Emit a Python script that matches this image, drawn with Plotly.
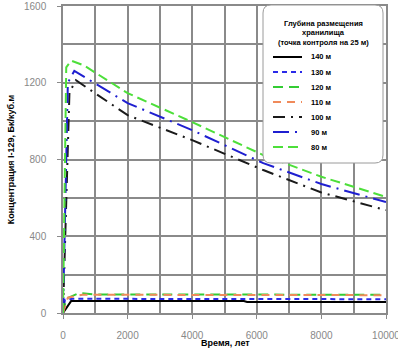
import plotly.graph_objects as go

# ---- data ----
t_140 = [0, 250, 5600, 5700, 10000]
c_140 = [0, 62, 62, 57, 57]

t_130 = [0, 60, 300, 10000]
c_130 = [0, 70, 74, 72]

t_120 = [0, 100, 500, 1000, 10000]
c_120 = [0, 75, 104, 97, 95]

t_110 = [0, 150, 600, 10000]
c_110 = [0, 80, 95, 93]

t_100 = [0, 200, 400, 2000, 4000, 6200, 8000, 10000]
c_100 = [0, 1150, 1213, 1031, 901, 745, 628, 536]

t_90 = [0, 150, 350, 2000, 4000, 6200, 8000, 10000]
c_90 = [0, 1200, 1262, 1094, 953, 781, 672, 578]

t_80 = [0, 100, 250, 650, 2000, 4000, 6200, 8000, 10000]
c_80 = [0, 1280, 1315, 1290, 1146, 995, 823, 710, 605]

series_names = ["140 м", "130 м", "120 м", "110 м", "100 м", "90 м", "80 м"]
legend_title = ["Глубина размещения", "хранилища", "(точка контроля на 25 м)"]
x_ticks = [0, 2000, 4000, 6000, 8000, 10000]
y_ticks = [0, 400, 800, 1200, 1600]

styles = [
    dict(color="#000000", dash="solid", width=2),
    dict(color="#2a2ae8", dash="5px,4px", width=2),
    dict(color="#33cc33", dash="10px,6px", width=2),
    dict(color="#f08a5a", dash="8px,6px", width=2),
    dict(color="#1a1a1a", dash="12px,6px,2px,6px", width=2),
    dict(color="#1f1fd0", dash="16px,6px,2px,6px", width=2),
    dict(color="#4ddf3a", dash="10px,5px", width=2),
]

data = [(t_140, c_140), (t_130, c_130), (t_120, c_120), (t_110, c_110),
        (t_100, c_100), (t_90, c_90), (t_80, c_80)]

fig = go.Figure()
for (t, c), name, st in zip(data, series_names, styles):
    fig.add_trace(go.Scatter(x=t, y=c, mode="lines", name=name, line=st,
                             showlegend=False))

FONT = "Liberation Sans, Arial, sans-serif"

# plot area in pixels
W, H = 398, 351
L, R, T, B = 63, 386, 6, 313


def px(x):
    return (x - L) / (R - L)


def py(y):
    return (B - y) / (B - T)


# rounded legend box (paper coords)
x0, x1, y0, y1 = px(263), px(383), py(163), py(5)
rx, ry = 8 / (R - L), 8 / (B - T)
path = (f"M {x0+rx},{y1} L {x1-rx},{y1} Q {x1},{y1} {x1},{y1-ry} "
        f"L {x1},{y0+ry} Q {x1},{y0} {x1-rx},{y0} L {x0+rx},{y0} "
        f"Q {x0},{y0} {x0},{y0+ry} L {x0},{y1-ry} Q {x0},{y1} {x0+rx},{y1} Z")

shapes = [dict(type="path", path=path, xref="paper", yref="paper",
               fillcolor="white", line=dict(color="#9a9a9a", width=1),
               layer="above")]
annotations = []

for i, line in enumerate(legend_title):
    annotations.append(dict(
        text=f"<b>{line}</b>", x=px(323), y=py(23 + i * 9.7), xref="paper", yref="paper",
        showarrow=False, xanchor="center", yanchor="middle",
        font=dict(family=FONT, size=7.5, color="#000000")))

for i, (name, st) in enumerate(zip(series_names, styles)):
    yy = 57 + i * 15
    shapes.append(dict(type="line", xref="paper", yref="paper",
                       x0=px(273), x1=px(302), y0=py(yy), y1=py(yy),
                       line=st, layer="above"))
    annotations.append(dict(
        text=f"<b>{name}</b>", x=px(309), y=py(yy), xref="paper", yref="paper",
        showarrow=False, xanchor="left", yanchor="middle",
        font=dict(family=FONT, size=7.5, color="#000000")))

# x-axis title as annotation (placed closer to the tick labels)
annotations.append(dict(
    text="<b>Время, лет</b>", x=px(225), y=py(343), xref="paper", yref="paper",
    showarrow=False, xanchor="center", yanchor="middle",
    font=dict(family=FONT, size=9, color="#000000")))

fig.update_layout(
    width=W, height=H, autosize=False,
    margin=dict(l=L, r=W - R, t=T, b=H - B),
    paper_bgcolor="white", plot_bgcolor="white",
    font=dict(family=FONT, size=10, color="#888888"),
    shapes=shapes, annotations=annotations,
    xaxis=dict(
        range=[0, 10000], tickvals=x_ticks,
        ticktext=[str(v) for v in x_ticks],
        showgrid=True, gridcolor="#8a8a8a", gridwidth=1.5,
        minor=dict(dtick=1000, showgrid=True, gridcolor="#8a8a8a", gridwidth=1.5),
        showline=True, linecolor="#8a8a8a", linewidth=1.5, mirror=True,
        ticks="outside", ticklen=4, tickcolor="#8a8a8a",
        ticklabelstandoff=8, ticklabeloverflow="allow",
        zeroline=False, automargin=False,
    ),
    yaxis=dict(
        range=[0, 1600], tickvals=y_ticks,
        showgrid=True, gridcolor="#8a8a8a", gridwidth=1.5,
        minor=dict(dtick=200, showgrid=True, gridcolor="#8a8a8a", gridwidth=1.5),
        showline=True, linecolor="#8a8a8a", linewidth=1.5, mirror=True,
        ticks="outside", ticklen=4, tickcolor="#8a8a8a",
        ticklabelstandoff=9, ticklabeloverflow="allow",
        zeroline=False, automargin=False,
        title=dict(text="Концентрация I-129, Бк/куб.м", standoff=8,
                   font=dict(family=FONT, size=9, color="#000000", weight="bold")),
    ),
)

fig.write_html("out.html",
               config={"displayModeBar": False},
               post_script="document.body.style.margin='0';document.body.style.overflow='hidden';")
